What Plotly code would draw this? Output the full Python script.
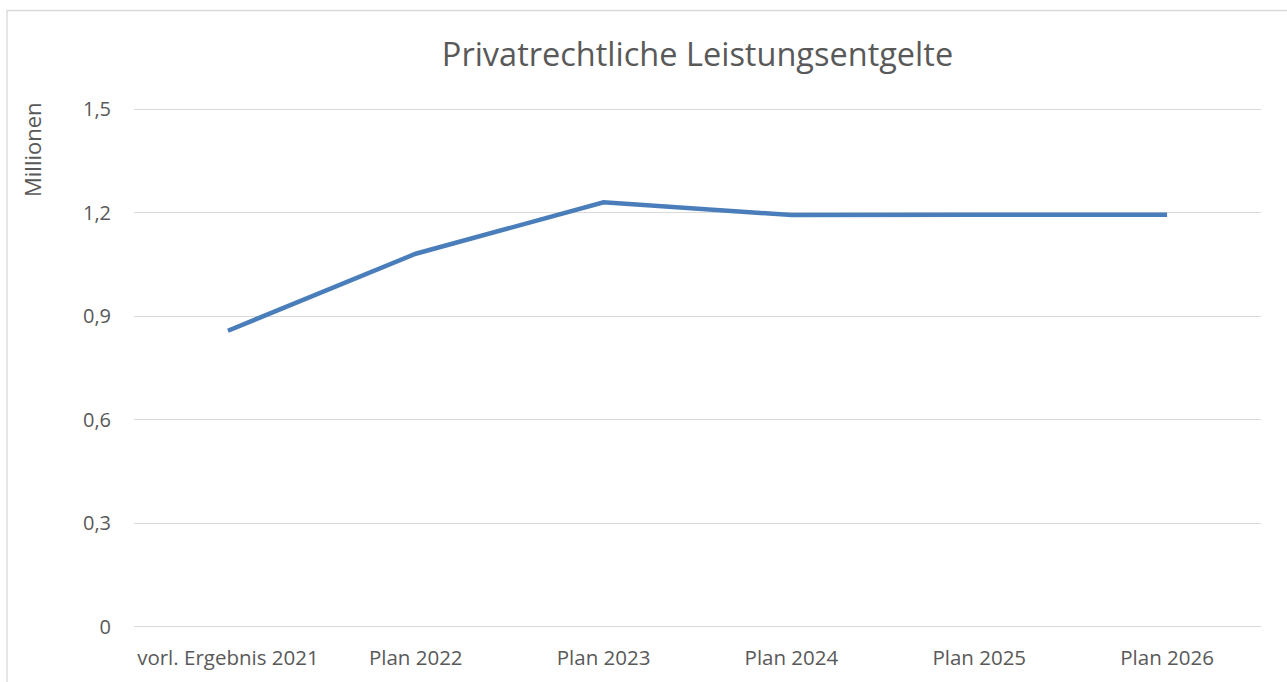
import plotly.graph_objects as go

categories = ["vorl. Ergebnis 2021", "Plan 2022", "Plan 2023", "Plan 2024", "Plan 2025", "Plan 2026"]
values = [0.858, 1.081, 1.230, 1.193, 1.194, 1.194]
y_ticks = [0, 0.3, 0.6, 0.9, 1.2, 1.5]
y_tick_labels = ["0", "0,3", "0,6", "0,9", "1,2", "1,5"]

W, H = 1287, 682
L, R, T, B = 134, 26, 107, 54
TXT = "#595959"
GRID = "#d9d9d9"

fig = go.Figure()
fig.add_trace(go.Scatter(
    x=categories, y=values, mode="lines",
    line=dict(color="#4a7ebb", width=4.5),
    hoverinfo="skip", showlegend=False,
))

pw = W - L - R
ph = H - T - B

def px_x(p):
    return (p - L) / pw

def px_y(p):
    return (H - B - p) / ph

fig.add_shape(type="rect", xref="paper", yref="paper",
              x0=px_x(7), x1=px_x(W + 5),
              y0=px_y(H + 10), y1=px_y(10.5),
              line=dict(color=GRID, width=1.3), layer="below")

fig.add_annotation(text="Millionen", xref="paper", yref="paper",
                   x=px_x(32), y=px_y(150), textangle=-90,
                   showarrow=False, xanchor="center", yanchor="middle",
                   font=dict(family="Open Sans", size=22, color=TXT))

fig.update_layout(
    width=W, height=H,
    margin=dict(l=L, r=R, t=T, b=B),
    paper_bgcolor="white", plot_bgcolor="white",
    font=dict(family="Open Sans", color=TXT, size=20),
    title=dict(text="Privatrechtliche Leistungsentgelte", x=0.5, xref="paper",
               xanchor="center",
               y=1 - 55 / H, yanchor="middle",
               font=dict(family="Open Sans", size=32.5, color=TXT)),
    xaxis=dict(range=[-0.5, 5.5], showgrid=False, showline=False, ticks="", zeroline=False,
               tickfont=dict(size=20.5, color=TXT), ticklabelstandoff=15),
    yaxis=dict(range=[-0.003, 1.506], tickvals=y_ticks, ticktext=y_tick_labels,
               showgrid=True, gridcolor=GRID, gridwidth=1.3,
               zeroline=True, zerolinecolor=GRID, zerolinewidth=1.3,
               showline=False, ticks="",
               tickfont=dict(size=20, color=TXT), ticklabelstandoff=22),
)

fig.write_html("out.html", config={"displayModeBar": False},
               post_script="document.body.style.margin='0';")
